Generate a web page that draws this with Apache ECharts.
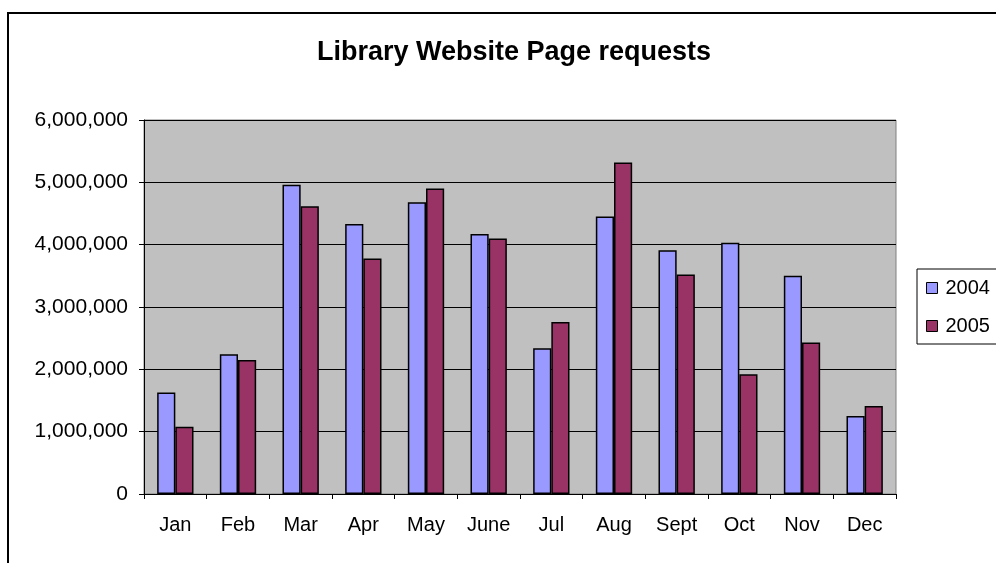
<!DOCTYPE html>
<html>
<head>
<meta charset="utf-8">
<script src="https://cdn.jsdelivr.net/npm/echarts@6/dist/echarts.min.js"></script>
<style>
  html, body { margin: 0; padding: 0; background: #fff; }
  #chart { width: 996px; height: 563px; }
</style>
</head>
<body>
<div id="chart"></div>
<script>
// 月份和两年的页面请求数
var months = ['Jan', 'Feb', 'Mar', 'Apr', 'May', 'June', 'Jul', 'Aug', 'Sept', 'Oct', 'Nov', 'Dec'];
var seriesNames = ['2004', '2005'];
var requests2004 = [1630000, 2240000, 4960000, 4330000, 4680000, 4170000, 2340000, 4450000, 3910000, 4030000, 3500000, 1250000];
var requests2005 = [1080000, 2150000, 4615000, 3780000, 4900000, 4100000, 2760000, 5320000, 3520000, 1920000, 2430000, 1410000];
var yTicks = [0, 1000000, 2000000, 3000000, 4000000, 5000000, 6000000];

var chart = echarts.init(document.getElementById('chart'), null, { renderer: 'canvas' });

function fmt(v) {
  return String(v).replace(/\B(?=(\d{3})+(?!\d))/g, ',');
}

var font = 'Liberation Sans, Arial, sans-serif';

var option = {
  backgroundColor: '#fff',
  animation: false,
  title: {
    text: 'Library Website Page requests',
    left: 509,
    top: 34,
    textAlign: 'center',
    textStyle: {
      fontFamily: font,
      fontSize: 27,
      fontWeight: 'bold',
      color: '#000'
    }
  },
  graphic: [{
    type: 'rect',
    shape: { x: 8, y: 13, width: 1000, height: 560 },
    style: { fill: 'none', stroke: '#000', lineWidth: 2 },
    silent: true,
    z: 0
  }],
  legend: {
    data: seriesNames,
    orient: 'vertical',
    left: 917,
    top: 269,
    padding: [9, 30, 8, 9],
    itemGap: 18,
    itemWidth: 11,
    itemHeight: 11,
    icon: 'rect',
    borderColor: '#000',
    borderWidth: 1,
    backgroundColor: '#fff',
    itemStyle: { borderColor: '#000', borderWidth: 1 },
    textStyle: {
      fontFamily: font,
      fontSize: 20,
      color: '#000',
      padding: [0, 0, 0, 3]
    }
  },
  grid: {
    left: 144,
    top: 120,
    width: 752,
    height: 374,
    show: true,
    backgroundColor: '#C0C0C0',
    borderColor: '#808080',
    borderWidth: 1
  },
  xAxis: {
    type: 'category',
    data: months,
    axisLine: { lineStyle: { color: '#000', width: 1 } },
    axisTick: { show: true, length: 5, lineStyle: { color: '#000' } },
    axisLabel: {
      fontFamily: font,
      fontSize: 20,
      color: '#000',
      margin: 21
    }
  },
  yAxis: {
    type: 'value',
    min: yTicks[0],
    max: yTicks[yTicks.length - 1],
    interval: 1000000,
    axisLine: { show: true, lineStyle: { color: '#000', width: 1 } },
    axisTick: { show: true, length: 5, lineStyle: { color: '#000' } },
    splitLine: { show: true, lineStyle: { color: '#000', width: 1 } },
    axisLabel: {
      fontFamily: font,
      fontSize: 21,
      color: '#000',
      margin: 16,
      formatter: function (v) { return fmt(v); }
    }
  },
  series: [{
    name: seriesNames[0],
    type: 'bar',
    data: requests2004,
    barGap: '0%',
    barCategoryGap: '42%',
    itemStyle: { color: '#9999FF', borderColor: '#000', borderWidth: 1.5 }
  }, {
    name: seriesNames[1],
    type: 'bar',
    data: requests2005,
    barGap: '0%',
    barCategoryGap: '42%',
    itemStyle: { color: '#993366', borderColor: '#000', borderWidth: 1.5 }
  }]
};

chart.setOption(option);
</script>
</body>
</html>
